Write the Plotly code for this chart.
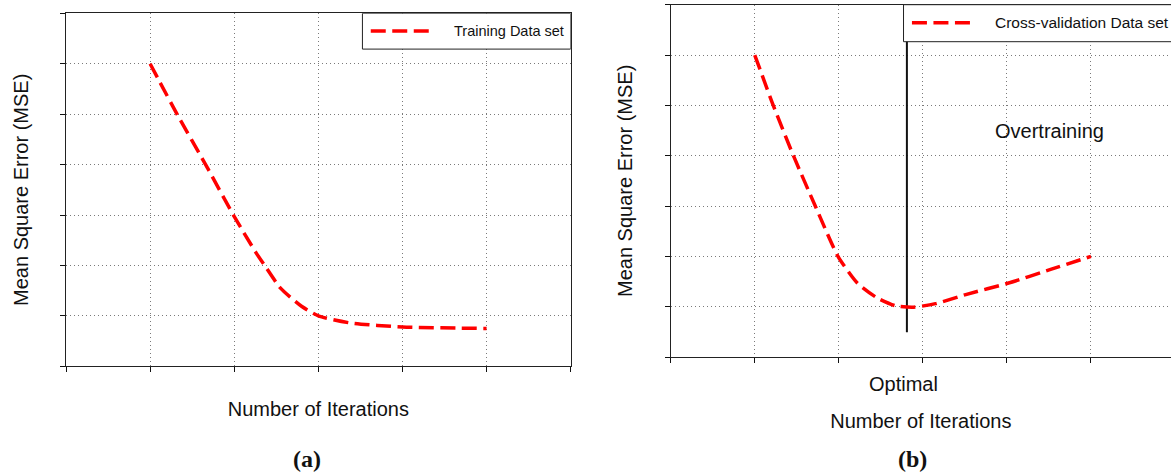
import plotly.graph_objects as go

# ---- data -------------------------------------------------------------
# (a) training error vs. iterations (arbitrary grid units)
iter_train = [1.0, 1.32, 1.66, 1.99, 2.26, 2.37, 2.55, 2.80, 3.0, 3.38, 4.0, 5.0]
mse_train = [6.0, 5.0, 4.0, 3.0, 2.25, 1.98, 1.55, 1.19, 1.0, 0.86, 0.78, 0.75]

# (b) cross-validation error vs. iterations
iter_cv = [1.0, 1.22, 1.46, 1.72, 1.99, 2.22, 2.45, 2.67, 2.89, 3.15, 3.51, 4.02, 4.52, 5.0]
mse_cv = [6.0, 5.0, 4.0, 3.0, 2.0, 1.47, 1.18, 1.02, 0.99, 1.06, 1.24, 1.47, 1.74, 2.0]

# optimal stopping point marker
optimal_x = [2.81, 2.81]
optimal_y = [0.49, 7.0]

legend_a = "Training Data set"
legend_b = "Cross-validation Data set"
x_title = "Number of Iterations"
y_title = "Mean Square Error (MSE)"

# ---- styling ----------------------------------------------------------
FONT = "Liberation Sans, Arial, sans-serif"
RED = "#ff0000"
DASH = "15px,6.5px"
GRID = dict(showgrid=True, gridcolor="#7a7a7a", gridwidth=1, griddash="1px,3px",
            zeroline=False, showticklabels=False, dtick=1, tick0=0,
            ticks="outside", ticklen=5, tickcolor="#111", tickwidth=1,
            showline=True, linecolor="#222", linewidth=1)
INSIDE = dict(showgrid=False, zeroline=False, showticklabels=False, dtick=1, tick0=0,
              ticks="inside", ticklen=5, tickcolor="#111", tickwidth=1, showline=False)

W, H = 1171, 476
XA = (66 / W, 570.7 / W)
YA = (1 - 366.3 / H, 1 - 13.3 / H)
XB = (670.7 / W, 1.0)
YB = (1 - 357 / H, 1 - 4.7 / H)
XR_A = [0, 6]
XR_B = [0, 5.952]
YR = [0, 7]

fig = go.Figure()

fig.add_trace(go.Scatter(x=iter_train, y=mse_train, mode="lines", xaxis="x", yaxis="y",
                         line=dict(color=RED, width=3.5, dash=DASH, shape="spline", smoothing=0.6),
                         showlegend=False))
fig.add_trace(go.Scatter(x=optimal_x, y=optimal_y, mode="lines", xaxis="x2", yaxis="y2",
                         line=dict(color="#111", width=2), showlegend=False))
fig.add_trace(go.Scatter(x=iter_cv, y=mse_cv, mode="lines", xaxis="x2", yaxis="y2",
                         line=dict(color=RED, width=3.5, dash=DASH, shape="spline", smoothing=0.6),
                         showlegend=False))

title_font = dict(family=FONT, size=20, color="#111")

fig.update_layout(
    width=W, height=H,
    margin=dict(l=0, r=0, t=0, b=0),
    paper_bgcolor="white", plot_bgcolor="white",
    showlegend=False,
    xaxis=dict(domain=XA, anchor="y", range=XR_A, mirror=True, **GRID,
               title=dict(text=x_title, font=title_font, standoff=30)),
    yaxis=dict(domain=YA, anchor="x", range=YR, mirror=True, **GRID,
               title=dict(text=y_title, font=title_font, standoff=25)),
    xaxis2=dict(domain=XB, anchor="y2", range=XR_B, mirror=True, **GRID,
                title=dict(text=x_title, font=title_font, standoff=51)),
    yaxis2=dict(domain=YB, anchor="x2", range=YR, mirror=False, **GRID,
                title=dict(text=y_title, font=title_font, standoff=26)),
    xaxis3=dict(overlaying="x", anchor="y", range=XR_A, **INSIDE),
    yaxis3=dict(overlaying="y", anchor="x", range=YR, **INSIDE),
    xaxis4=dict(overlaying="x2", anchor="y2", range=XR_B, **INSIDE),
    yaxis4=dict(overlaying="y2", anchor="x2", range=YR, **INSIDE),
)

# legend boxes
fig.add_shape(type="rect", xref="x", yref="y", x0=3.524, x1=6.0, y0=6.29, y1=7.0,
              line=dict(color="#222", width=1), fillcolor="white", layer="above")
fig.add_shape(type="line", xref="x", yref="y", x0=3.623, x1=4.316, y0=6.65, y1=6.65,
              line=dict(color=RED, width=3.5, dash=DASH), layer="above")
fig.add_annotation(x=4.585, y=6.65, xref="x", yref="y", text=legend_a, showarrow=False,
                   xanchor="left", yanchor="middle", font=dict(family=FONT, size=14.5, color="#111"))

fig.add_shape(type="rect", xref="x2", yref="y2", x0=2.77, x1=6.3, y0=6.265, y1=7.0,
              line=dict(color="#222", width=1), fillcolor="white", layer="above")
fig.add_shape(type="line", xref="x2", yref="y2", x0=2.87, x1=3.57, y0=6.64, y1=6.64,
              line=dict(color=RED, width=3.5, dash=DASH), layer="above")
fig.add_annotation(x=3.835, y=6.64, xref="x2", yref="y2", text=legend_b, showarrow=False,
                   xanchor="left", yanchor="middle", font=dict(family=FONT, size=15.5, color="#111"))

# region / point labels
fig.add_annotation(x=4.51, y=4.5, xref="x2", yref="y2", text="Overtraining", showarrow=False,
                   xanchor="center", yanchor="middle", font=title_font)
fig.add_annotation(x=optimal_x[0] - 0.04, y=1 - 384 / H, xref="x2", yref="paper", text="Optimal",
                   showarrow=False, xanchor="center", yanchor="middle", font=title_font)

# panel captions
cap_font = dict(family="Liberation Serif, Times New Roman, serif", size=24, color="#111")
fig.add_annotation(x=307 / W, y=1 - 459 / H, xref="paper", yref="paper", text="<b>(a)</b>",
                   showarrow=False, xanchor="center", yanchor="middle", font=cap_font)
fig.add_annotation(x=912 / W, y=1 - 459 / H, xref="paper", yref="paper", text="<b>(b)</b>",
                   showarrow=False, xanchor="center", yanchor="middle", font=cap_font)

fig.write_html("out.html")
